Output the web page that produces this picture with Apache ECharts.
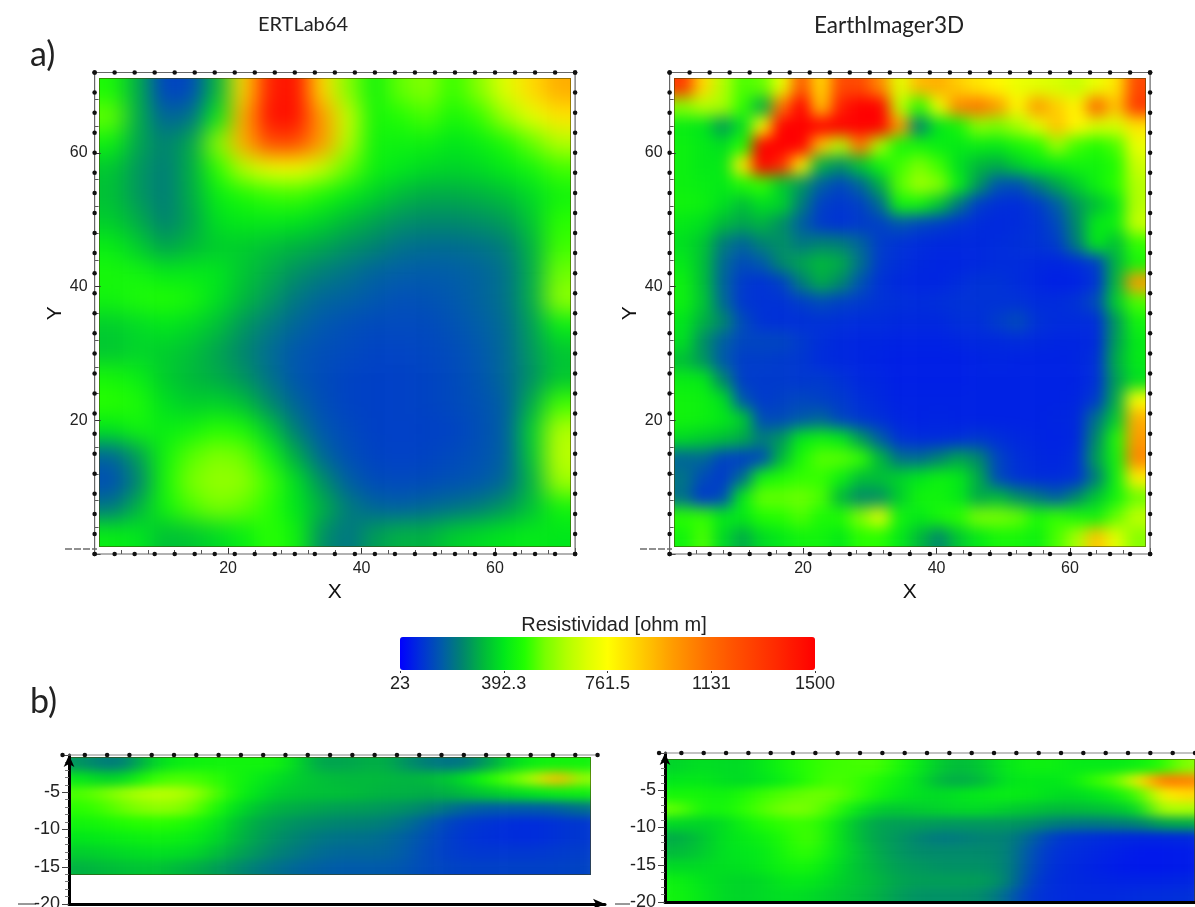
<!DOCTYPE html>
<html><head><meta charset="utf-8">
<style>
html,body{margin:0;padding:0;background:#fff;width:1195px;height:907px;overflow:hidden}
.heat{position:absolute;overflow:hidden}
.heat>div{position:absolute}
.edge{position:absolute;box-sizing:border-box;pointer-events:none}
#overlay{position:absolute;left:0;top:0;width:1195px;height:907px}
</style>
<script src="https://cdn.jsdelivr.net/npm/echarts@6/dist/echarts.min.js"></script>
</head><body>
<svg width="0" height="0" style="position:absolute">
<filter id="fA" x="-10%" y="-10%" width="120%" height="120%" color-interpolation-filters="sRGB"><feGaussianBlur stdDeviation="11"/></filter>
<filter id="fB" x="-10%" y="-10%" width="120%" height="120%" color-interpolation-filters="sRGB"><feGaussianBlur stdDeviation="7.5"/></filter>
<filter id="fC" x="-10%" y="-20%" width="120%" height="140%" color-interpolation-filters="sRGB"><feGaussianBlur stdDeviation="12 5"/></filter>
</svg>
<div id="overlay"></div>
<script>
// ---- Data: resistivity [ohm m], rows from top to bottom ----
const ertlabPlan = [
[450,300,130,140,320,850,1400,1450,850,560,430,520,560,480,560,700,850,950],
[520,300,190,210,400,950,1450,1450,1000,650,440,460,500,440,480,590,700,820],
[420,290,240,290,560,950,1250,1250,1000,620,430,420,420,390,410,450,520,620],
[340,270,230,300,470,620,720,740,650,520,420,390,370,360,370,400,430,490],
[330,270,230,300,410,450,480,490,450,400,360,320,300,300,310,330,370,430],
[350,300,240,290,380,400,400,390,360,320,290,260,250,250,260,280,340,470],
[410,350,290,320,350,350,330,310,290,260,240,210,200,200,210,230,310,490],
[440,430,400,400,390,340,300,260,230,210,185,175,170,175,185,210,300,530],
[430,450,460,440,380,320,270,220,190,180,165,150,155,165,185,210,300,570],
[350,370,390,370,330,270,225,190,165,150,140,140,140,155,175,200,280,410],
[340,360,350,330,290,245,200,165,150,140,130,130,135,145,165,195,270,340],
[440,410,350,320,300,265,210,165,145,130,125,125,130,140,160,195,260,340],
[470,450,380,350,360,330,250,190,150,130,125,125,130,140,155,180,300,490],
[390,430,410,430,470,450,340,230,165,140,125,125,125,130,150,180,350,610],
[190,280,430,510,550,530,430,300,195,150,130,125,130,140,155,180,340,630],
[150,240,440,540,580,570,490,380,260,180,145,140,145,155,165,195,310,590],
[220,310,430,500,540,520,470,390,310,230,190,180,195,210,230,270,330,430],
[410,390,330,340,370,410,470,430,260,215,280,310,310,350,370,390,400,390]];
const earthImagerPlan = [
[1300,850,620,500,520,720,1200,850,1250,1250,1050,700,920,950,880,820,780,720,700,680,650,720,820,1250],
[560,620,600,480,310,1100,1500,900,1400,1500,1500,640,470,720,1050,1100,1000,780,1000,880,780,1150,900,1300],
[410,390,280,380,750,1500,1500,1500,1500,1500,1500,1000,240,390,440,560,540,600,700,900,780,680,680,820],
[420,400,380,460,1500,1500,1500,900,620,1100,600,440,440,410,400,410,400,440,470,580,490,460,500,720],
[420,400,400,800,1500,1350,800,310,260,340,430,490,540,490,380,320,300,350,390,410,430,430,460,660],
[420,410,400,450,480,350,270,180,135,190,300,510,590,550,410,270,160,150,220,290,350,420,470,620],
[430,420,380,330,380,360,230,125,110,125,200,430,430,340,220,120,95,90,115,175,270,330,400,620],
[400,380,320,290,310,260,180,115,100,115,125,160,135,120,100,90,85,90,100,140,250,400,420,650],
[380,340,230,190,240,260,220,240,230,190,120,100,90,85,85,85,90,95,100,120,230,400,330,480],
[400,330,200,145,170,250,290,320,300,210,115,95,85,80,80,85,90,90,85,80,90,120,310,440],
[420,330,190,115,100,125,230,300,250,160,100,85,80,80,90,100,100,90,80,70,75,100,320,1000],
[420,340,200,110,100,100,120,145,125,115,100,95,90,95,100,100,100,100,90,90,100,145,350,500],
[390,310,250,145,100,95,95,100,95,90,90,85,85,85,95,95,120,145,100,90,90,90,270,430],
[380,260,180,135,135,135,115,95,85,80,80,75,75,75,80,85,85,90,85,80,80,85,280,400],
[330,270,170,120,120,115,110,90,85,80,75,70,70,70,70,75,80,75,75,75,80,95,300,400],
[410,400,250,120,115,115,110,115,100,85,80,70,70,70,70,75,75,75,75,75,75,95,280,380],
[430,420,380,165,115,125,135,125,115,95,85,75,75,75,75,75,75,75,75,75,80,115,300,750],
[430,420,400,350,145,145,170,190,135,110,95,80,75,80,75,75,75,75,75,80,85,210,350,950],
[370,350,330,300,230,270,400,430,400,280,180,100,90,90,95,110,95,85,80,75,85,250,450,1000],
[190,195,130,120,145,320,450,510,510,480,320,210,200,240,290,250,135,95,85,80,95,280,430,1050],
[215,145,115,200,430,460,480,480,420,330,330,360,390,420,400,300,145,100,90,90,100,230,420,800],
[210,110,145,400,520,520,530,500,320,250,260,350,430,430,400,300,320,260,220,180,250,340,430,530],
[470,480,400,400,460,470,500,450,460,550,700,430,400,440,470,540,540,520,450,480,450,430,520,640],
[430,500,370,300,370,400,430,430,400,470,470,400,320,250,340,400,440,440,420,500,600,900,700,560]];
const ertlabSection = [
[270,230,230,330,400,420,430,430,430,430,370,290,290,300,310,260,230,210,230,300,380,420,430,430],
[400,360,370,460,500,500,480,440,410,380,350,330,320,320,320,310,320,340,390,470,520,620,950,560],
[500,530,580,620,630,600,520,440,390,350,340,330,330,320,310,310,300,310,330,350,370,390,410,420],
[470,490,530,560,570,540,470,390,340,310,300,290,280,280,270,260,240,210,180,170,170,170,180,210],
[430,440,460,470,470,450,410,350,300,280,260,250,240,240,230,210,170,130,110,100,90,90,100,110],
[390,400,410,420,420,410,380,330,290,260,240,220,210,210,200,180,150,120,100,95,90,90,100,110],
[350,360,370,380,380,370,340,300,270,240,220,200,190,190,190,170,140,120,110,110,110,110,115,120],
[310,320,330,340,330,310,290,260,230,210,190,180,170,170,170,160,140,130,125,125,125,125,125,130]];
const earthImagerSection = [
[360,380,370,370,400,440,470,490,490,500,450,400,340,320,350,400,420,420,400,400,400,420,460,560],
[390,400,380,370,390,420,470,500,490,460,420,380,310,300,330,390,400,390,410,480,520,780,1100,1050],
[440,440,420,450,490,510,530,530,490,440,400,380,370,390,400,410,400,380,370,390,420,500,780,850],
[520,440,430,470,510,540,540,490,410,350,340,350,360,370,370,350,340,320,320,330,340,380,620,600],
[370,360,370,420,460,480,490,430,340,290,280,280,270,270,270,270,260,230,220,220,230,240,290,300],
[300,330,380,400,420,460,500,420,340,290,270,240,220,230,240,240,190,120,100,90,85,80,80,85],
[320,340,380,390,400,450,480,410,350,300,270,250,250,250,250,240,160,100,90,80,70,60,60,65],
[370,370,380,380,400,430,440,390,340,310,280,270,260,260,260,240,150,95,85,75,65,60,60,65],
[420,390,370,360,370,400,400,370,340,320,290,280,280,280,280,240,130,90,85,80,75,75,75,80],
[430,400,370,360,370,380,370,350,330,310,280,260,260,260,250,190,110,90,85,85,85,90,90,95]];
const frameTicks = [0,3,6,9,12,15,18,21,24,27,30,33,36,39,42,45,48,51,54,57,60,63,66,69,72];
const legendTicks = [23,392.3,761.5,1131,1500];
const legendColors = ['#0000ff','#0030d8','#005aaa','#00856e','#00b83c','#00e81a','#22ff00','#78ff00','#b0ff00','#dcff00','#ffff00','#ffe000','#ffc000','#ffa000','#ff8400','#ff6a00','#ff5400','#ff4000','#ff2c00','#ff1600','#ff0000'];
const VMIN = 23, VMAX = 1500;

// ---- Heat layers (each map smoothed like the interpolated original) ----
function heatLayer(rows, r, filterId){
  const nr = rows.length, nc = rows[0].length;
  const cw = r.w/nc, ch = r.h/nr;
  const box = document.createElement('div');
  box.className = 'heat';
  box.style.cssText = `left:${r.x}px;top:${r.y}px;width:${r.w}px;height:${r.h}px`;
  const inner = document.createElement('div');
  inner.style.cssText = `left:${-cw}px;top:${-ch}px;width:${r.w+2*cw}px;height:${r.h+2*ch}px;filter:url(#${filterId})`;
  box.appendChild(inner);
  document.body.insertBefore(box, document.getElementById('overlay'));
  const edge = document.createElement('div');
  edge.className = 'edge';
  edge.style.cssText = `left:${r.x}px;top:${r.y}px;width:${r.w}px;height:${r.h}px;border:1px solid rgba(70,60,0,.55)`;
  document.body.insertBefore(edge, document.getElementById('overlay'));
  const data = [];
  for(let j=-1;j<=nr;j++) for(let i=-1;i<=nc;i++){
    const jj=Math.min(nr-1,Math.max(0,j)), ii=Math.min(nc-1,Math.max(0,i));
    data.push([i+1,j+1,rows[jj][ii]]);
  }
  const cats = n => Array.from({length:n+2},(_,k)=>String(k));
  const c = echarts.init(inner);
  c.setOption({
    animation:false,
    grid:{left:0,right:0,top:0,bottom:0,outerBoundsMode:'none'},
    xAxis:{type:'category',data:cats(nc),show:false},
    yAxis:{type:'category',data:cats(nr),inverse:true,show:false},
    visualMap:{show:false,min:VMIN,max:VMAX,inRange:{color:legendColors}},
    series:[{type:'heatmap',data,progressive:0,itemStyle:{borderWidth:0}}]
  });
}
heatLayer(ertlabPlan,{x:99,y:78,w:472,h:469},'fA');
heatLayer(earthImagerPlan,{x:674,y:78,w:472,h:469},'fB');
heatLayer(ertlabSection,{x:70,y:757,w:521,h:118},'fC');
heatLayer(earthImagerSection,{x:666,y:759,w:529,h:143},'fC');

// ---- Axes, frames, text ----
const tickFont = {fontFamily:'Liberation Sans',fontSize:16,color:'#222'};
const grids=[], xs=[], ys=[], series=[];
function framePath(gi, pts, color){
  series.push({type:'line',xAxisIndex:gi,yAxisIndex:gi,clip:false,silent:true,
    data:pts,showAllSymbol:true,symbol:'circle',symbolSize:4.5,
    itemStyle:{color:'#111'},lineStyle:{color:color||'#666',width:1.2},z:5});
}
function plan(gi,left){
  grids.push({left,top:72.5,width:480.5,height:481.5,outerBoundsMode:'none'});
  const ax = {min:0,max:72,interval:20,
    axisLine:{show:false},
    axisTick:{show:true,inside:true,length:6,lineStyle:{color:'#333'}},
    minorTick:{show:true,splitNumber:5,length:4,lineStyle:{color:'#555'}},
    splitLine:{show:false},
    axisLabel:Object.assign({},tickFont,{showMinLabel:false,showMaxLabel:false,margin:7})};
  xs.push(Object.assign({},ax,{type:'value',gridIndex:gi,name:'X',nameLocation:'middle',nameGap:20,
    nameTextStyle:{fontFamily:'Liberation Sans',fontSize:21,color:'#111'}}));
  ys.push(Object.assign({},ax,{type:'value',gridIndex:gi,name:'Y',nameLocation:'middle',nameGap:28,
    nameTextStyle:{fontFamily:'Liberation Sans',fontSize:21,color:'#111'}}));
  framePath(gi, frameTicks.map(v=>[v,72]));
  framePath(gi, frameTicks.map(v=>[v,0]));
  framePath(gi, frameTicks.map(v=>[0,v]));
  framePath(gi, frameTicks.map(v=>[72,v]));
}
function section(gi,left,top,right,bottomPx,xMin,xMax,arrow){
  grids.push({left,top,width:right-left,height:bottomPx-top,outerBoundsMode:'none'});
  xs.push({type:'value',gridIndex:gi,min:xMin,max:xMax,
    axisLine:{show:true,onZero:false,symbol:arrow?['none','arrow']:'none',symbolSize:[8,12],lineStyle:{color:'#000',width:3}},
    axisTick:{show:false},axisLabel:{show:false},splitLine:{show:false}});
  ys.push({type:'value',gridIndex:gi,min:-20,max:0,interval:5,
    axisLine:{show:true,onZero:false,symbol:['none','arrow'],symbolSize:[8,12],lineStyle:{color:'#000',width:3}},
    axisTick:{show:true,length:7,lineStyle:{color:'#444'}},
    minorTick:{show:true,splitNumber:5,length:4,lineStyle:{color:'#777'}},
    splitLine:{show:false},
    axisLabel:Object.assign({},tickFont,{fontSize:18,margin:9,showMaxLabel:false})});
  framePath(gi, frameTicks.map(v=>[v,0]), '#888');
}
plan(0,94.6);
plan(1,669.6);
section(2,69,755,605,904,0.87,73,true);
section(3,665,753,1195,902,0.8,72,false);

// colour scale axis
grids.push({left:400,top:670,width:415,height:1,outerBoundsMode:'none'});
xs.push({type:'value',gridIndex:4,min:VMIN,max:VMAX,
  axisLine:{show:false},
  axisTick:{show:true,length:2,customValues:legendTicks,lineStyle:{color:'#333'}},
  splitLine:{show:false},
  axisLabel:Object.assign({},tickFont,{fontSize:18,margin:4,customValues:legendTicks,hideOverlap:false,
    formatter:v=>String(v)})});
ys.push({type:'value',gridIndex:4,show:false,min:0,max:1});

const lato = (size)=>({fontFamily:'Lato',fontSize:size,color:'#222',fontWeight:'normal'});
const chart = echarts.init(document.getElementById('overlay'),null,{renderer:'canvas'});
chart.setOption({
  animation:false,
  backgroundColor:'transparent',
  title:[
    {text:'ERTLab64',left:298,top:10,textAlign:'center',textStyle:lato(20)},
    {text:'EarthImager3D',left:884,top:9,textAlign:'center',textStyle:lato(22.5)},
    {text:'a)',left:25,top:33,textStyle:lato(34)},
    {text:'b)',left:25,top:680,textStyle:lato(34)},
    {text:'Resistividad [ohm m]',left:609,top:610,textAlign:'center',
      textStyle:{fontFamily:'Liberation Sans',fontSize:20,color:'#222',fontWeight:'normal'}}
  ],
  grid:grids,xAxis:xs,yAxis:ys,series,
  visualMap:{type:'continuous',show:true,seriesIndex:[],min:VMIN,max:VMAX,orient:'horizontal',
    left:400,top:637,itemWidth:33,itemHeight:415,calculable:false,realtime:false,text:null,showLabel:false,
    inRange:{color:legendColors},borderWidth:0,padding:0,textStyle:{color:'transparent',fontSize:1},formatter:()=>''},
  graphic:[
    {type:'line',shape:{x1:65,y1:549,x2:97,y2:549},style:{stroke:'#222',lineWidth:1.2,lineDash:[7,2]}},
    {type:'line',shape:{x1:640,y1:549,x2:672,y2:549},style:{stroke:'#222',lineWidth:1.2,lineDash:[7,2]}},
    {type:'line',shape:{x1:18,y1:904,x2:36,y2:904},style:{stroke:'#333',lineWidth:1}},
    {type:'line',shape:{x1:615,y1:904,x2:630,y2:904},style:{stroke:'#333',lineWidth:1}}
  ]
});
</script>
</body></html>
